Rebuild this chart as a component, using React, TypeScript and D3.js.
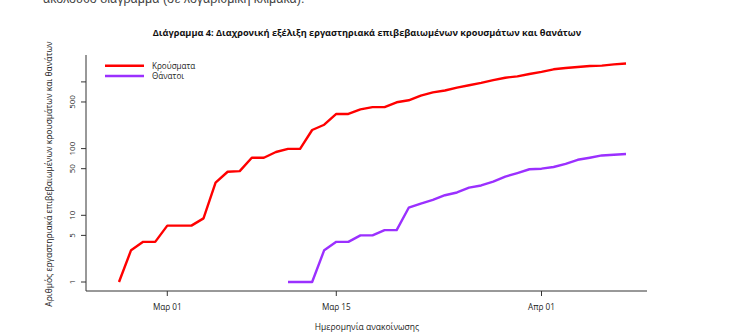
import React from "react";
import * as d3 from "d3";

const caseDates = [
  "2020-02-26","2020-02-27","2020-02-28","2020-02-29",
  "2020-03-01","2020-03-02","2020-03-03","2020-03-04","2020-03-05","2020-03-06","2020-03-07","2020-03-08","2020-03-09","2020-03-10",
  "2020-03-11","2020-03-12","2020-03-13","2020-03-14","2020-03-15","2020-03-16","2020-03-17","2020-03-18","2020-03-19","2020-03-20",
  "2020-03-21","2020-03-22","2020-03-23","2020-03-24","2020-03-25","2020-03-26","2020-03-27","2020-03-28","2020-03-29","2020-03-30","2020-03-31",
  "2020-04-01","2020-04-02","2020-04-03","2020-04-04","2020-04-05","2020-04-06","2020-04-07","2020-04-08",
];
const cases = [
  1, 3, 4, 4,
  7, 7, 7, 9, 31, 45, 46, 73, 73, 89,
  99, 99, 190, 228, 331, 331, 387, 418, 418, 495,
  530, 624, 695, 743, 821, 892, 966, 1061, 1156, 1212, 1314,
  1415, 1544, 1613, 1673, 1735, 1755, 1832, 1884,
];
const deathDates = [
  "2020-03-11","2020-03-12","2020-03-13","2020-03-14","2020-03-15","2020-03-16","2020-03-17","2020-03-18","2020-03-19","2020-03-20",
  "2020-03-21","2020-03-22","2020-03-23","2020-03-24","2020-03-25","2020-03-26","2020-03-27","2020-03-28","2020-03-29","2020-03-30","2020-03-31",
  "2020-04-01","2020-04-02","2020-04-03","2020-04-04","2020-04-05","2020-04-06","2020-04-07","2020-04-08",
];
const deaths = [
  1, 1, 1, 3, 4, 4, 5, 5, 6, 6,
  13, 15, 17, 20, 22, 26, 28, 32, 38, 43, 49,
  50, 53, 59, 68, 73, 79, 81, 83,
];
const xTickDates = ["2020-03-01", "2020-03-15", "2020-04-01"];
const xTickLabels = ["Μαρ 01", "Μαρ 15", "Απρ 01"];
const yTicks = [1, 5, 10, 50, 100, 500, 1000];
const yTickLabels = ["1", "5", "10", "50", "100", "500", ""];
const seriesNames = ["Κρούσματα", "Θάνατοι"];
const seriesColors = ["#ff0000", "#9b30ff"];

const title = "Διάγραμμα 4: Διαχρονική εξέλιξη εργαστηριακά επιβεβαιωμένων κρουσμάτων και θανάτων";
const topText = "ακόλουθο διάγραμμα (σε λογαριθμική κλίμακα).";
const xLabel = "Ημερομηνία ανακοίνωσης";
const yLabel = "Αριθμός εργαστηριακά επιβεβαιωμένων κρουσμάτων και θανάτων";

const W = 734, H = 332;
const plotLeft = 86, plotRight = 647, plotTop = 55, plotBottom = 291;
const font = "'Open Sans', 'DejaVu Sans', sans-serif";
const textColor = "#222";

export default function App() {
  const parse = d3.utcParse("%Y-%m-%d");
  const cd = caseDates.map((d) => parse(d) as Date);
  const dd = deathDates.map((d) => parse(d) as Date);

  const x = d3
    .scaleUtc()
    .domain([cd[0], cd[cd.length - 1]])
    .range([119, 626]);
  const y = d3.scaleLog().domain([1, 1000]).range([282, 81.9]);

  const line = d3
    .line<[Date, number]>()
    .x((d) => x(d[0]))
    .y((d) => y(d[1]));

  const caseData: [Date, number][] = cd.map((d, i) => [d, cases[i]]);
  const deathData: [Date, number][] = dd.map((d, i) => [d, deaths[i]]);

  const yMid = 174;

  return (
    <svg
      width={W}
      height={H}
      style={{ position: "absolute", left: 0, top: 0, background: "#fff" }}
    >
      <rect width={W} height={H} fill="#fff" />
      <text x={43} y={3} fontFamily="'Liberation Sans', sans-serif" fontSize={12.5} fill="#444">
        {topText}
      </text>
      <text
        x={367}
        y={36}
        textAnchor="middle"
        fontFamily={font}
        fontWeight="bold"
        fontSize={9.2}
        fill="#111"
      >
        {title}
      </text>

      {/* axes */}
      <line x1={plotLeft} x2={plotRight} y1={plotBottom} y2={plotBottom} stroke="#333" strokeWidth={1} />
      <line x1={plotLeft} x2={plotLeft} y1={plotTop} y2={plotBottom} stroke="#333" strokeWidth={1} />

      {yTicks.map((t, i) => (
        <g key={"y" + t}>
          <line x1={plotLeft - 5} x2={plotLeft} y1={y(t)} y2={y(t)} stroke="#333" />
          {yTickLabels[i] && (
            <text
              transform={`translate(${plotLeft - 11},${y(t)}) rotate(-90)`}
              textAnchor="middle"
              fontFamily={font}
              fontSize={8}
              fill={textColor}
            >
              {yTickLabels[i]}
            </text>
          )}
        </g>
      ))}

      {xTickDates.map((d, i) => {
        const xv = x(parse(d) as Date);
        return (
          <g key={"x" + d}>
            <line x1={xv} x2={xv} y1={plotBottom} y2={plotBottom + 5} stroke="#333" />
            <text x={xv} y={310} textAnchor="middle" fontFamily={font} fontSize={8.2} fill={textColor}>
              {xTickLabels[i]}
            </text>
          </g>
        );
      })}

      <text x={367} y={330} textAnchor="middle" fontFamily={font} fontSize={8.5} fill={textColor}>
        {xLabel}
      </text>
      <text
        transform={`translate(52,${yMid}) rotate(-90)`}
        textAnchor="middle"
        fontFamily={font}
        fontSize={8.5}
        fill={textColor}
      >
        {yLabel}
      </text>

      <path d={line(caseData) || ""} fill="none" stroke={seriesColors[0]} strokeWidth={2.4} strokeLinejoin="round" />
      <path d={line(deathData) || ""} fill="none" stroke={seriesColors[1]} strokeWidth={2.4} strokeLinejoin="round" />

      {/* legend */}
      {seriesNames.map((n, i) => (
        <g key={n}>
          <line x1={105} x2={144} y1={65.7 + i * 10.3} y2={65.7 + i * 10.3} stroke={seriesColors[i]} strokeWidth={2.4} />
          <text x={152} y={68.7} fontFamily={font} fontSize={8.1} fill={textColor} transform={`translate(0,${i * 10.3})`}>
            {n}
          </text>
        </g>
      ))}
    </svg>
  );
}
